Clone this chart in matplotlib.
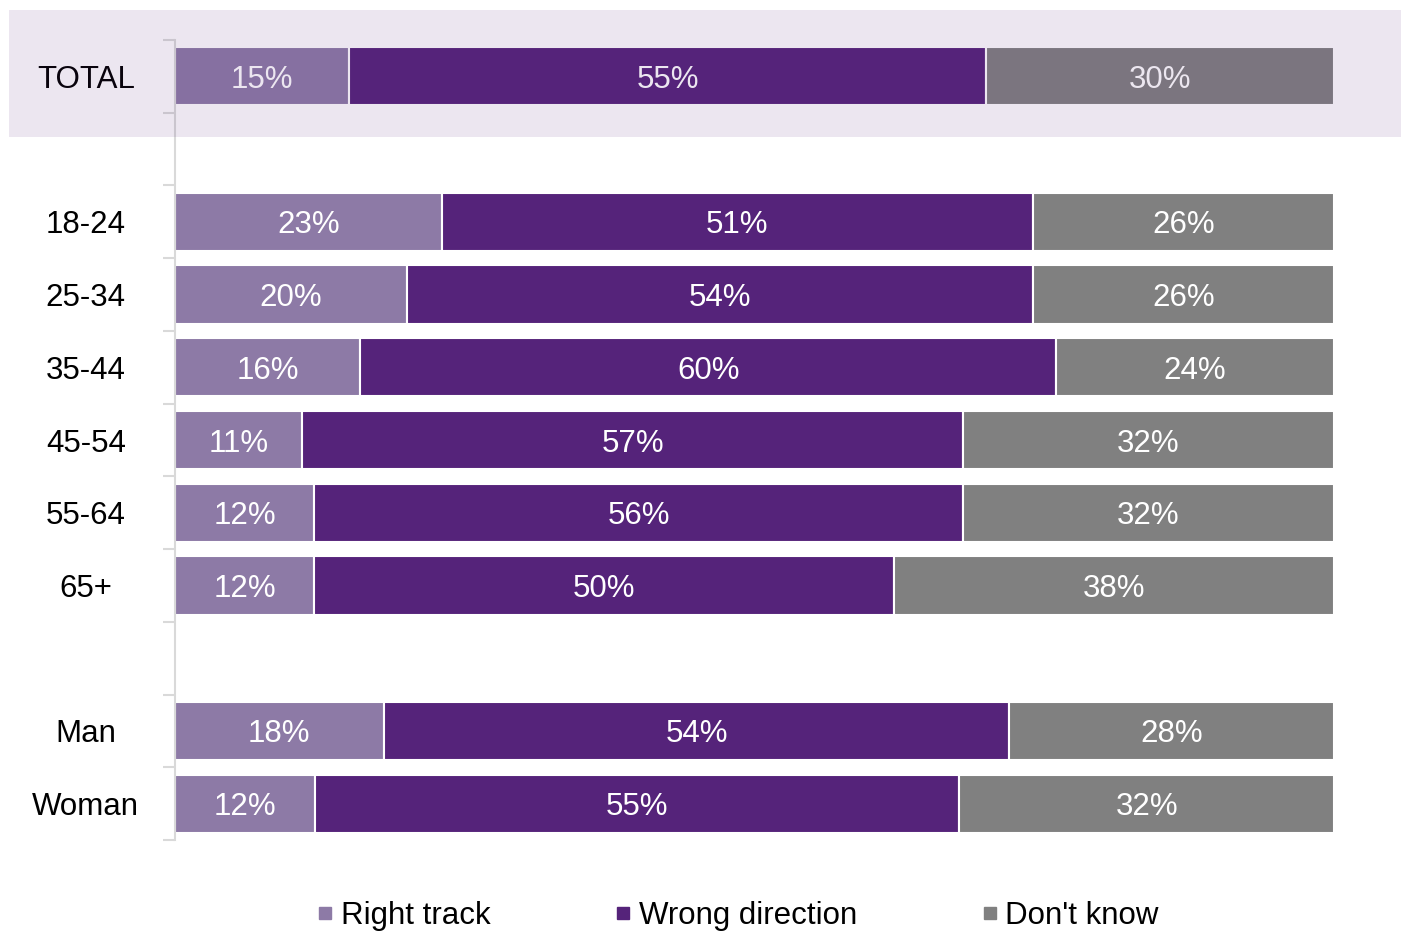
import numpy as np
import matplotlib
matplotlib.use("Agg")
import matplotlib.pyplot as plt
from matplotlib.lines import Line2D
from matplotlib.patches import Rectangle

plt.rcParams["font.family"] = ["Liberation Sans", "DejaVu Sans"]

# survey results, share of each answer per group (%)
sections = [
    ["TOTAL"],
    ["18-24", "25-34", "35-44", "45-54", "55-64", "65+"],
    ["Man", "Woman"],
]
right_track = [15, 23, 20, 16, 11, 12, 12, 18, 12]
wrong_direction = [55, 51, 54, 60, 57, 56, 50, 54, 55]
dont_know = [30, 26, 26, 24, 32, 32, 38, 28, 32]
answers = ["Right track", "Wrong direction", "Don't know"]
colors = ["#8D7AA6", "#55237A", "#808080"]

# one empty slot between sections
groups, ypos = [], []
slot = 0
for sec in sections:
    for g in sec:
        groups.append(g)
        ypos.append(slot)
        slot += 1
    slot += 1
n_slots = slot - 1
ypos = np.array(ypos)

vals = np.array([right_track, wrong_direction, dont_know], dtype=float)
shares = vals / vals.sum(axis=0)  # 100% stacked

fig = plt.figure(figsize=(14.01, 9.34), dpi=100)
ax = fig.add_axes([175 / 1401, 1 - 840 / 934, (1334 - 175) / 1401, 800 / 934])

left = np.zeros(len(groups))
for i, name in enumerate(answers):
    ax.barh(ypos, shares[i], left=left, height=0.8, color=colors[i],
            edgecolor="white", linewidth=1.5, label=name)
    for y, l, w, v in zip(ypos, left, shares[i], vals[i]):
        ax.text(l + w / 2, y, f"{v:.0f}%", ha="center", va="center_baseline",
                color="white", fontsize=22.5)
    left += shares[i]

ax.set_xlim(0, 1)
ax.set_ylim(n_slots - 0.5, -0.5)
ax.set_xticks([])
ax.set_yticks(np.arange(n_slots + 1) - 0.5)
ax.set_yticklabels([])
ax.tick_params(axis="y", length=9, width=1.5, color="#D9D9D9", direction="out")
for s in ["top", "right", "bottom"]:
    ax.spines[s].set_visible(False)
ax.spines["left"].set_color("#D9D9D9")
ax.spines["left"].set_linewidth(1.5)

# group names, centred in the left margin
for g, y in zip(groups, ypos):
    ax.text(-0.077, y, g, ha="center", va="center_baseline", fontsize=22.5,
            color="black", transform=ax.get_yaxis_transform())

# highlight band over the TOTAL row
band = Rectangle((9 / 1401, 1 - 137 / 934), 1 - 9 / 1401, 127 / 934,
                 transform=fig.transFigure, facecolor="#55247A", alpha=0.11,
                 edgecolor="none", zorder=10)
fig.add_artist(band)

handles = [Line2D([], [], marker="s", linestyle="none", markersize=9,
                  markerfacecolor=c, markeredgecolor=c) for c in colors]
fig.legend(handles, answers, loc="center", bbox_to_anchor=(0.524, 1 - 916 / 934),
           ncol=3, frameon=False, fontsize=22.5, handletextpad=0.0,
           columnspacing=3.75, handlelength=1.0)

fig.savefig("out.png", dpi=100, facecolor="white")
